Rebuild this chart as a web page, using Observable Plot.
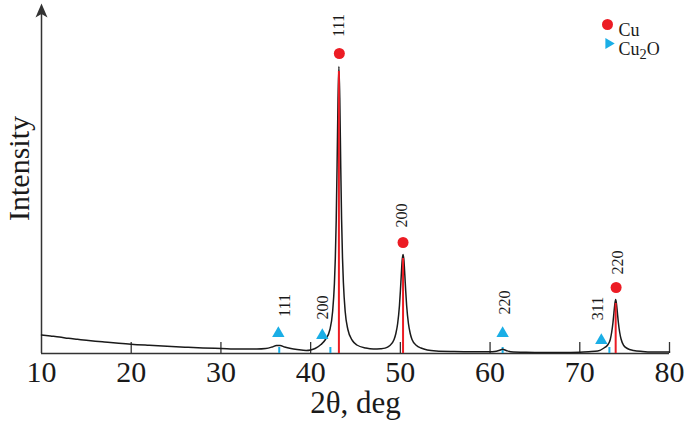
<!DOCTYPE html>
<html>
<head>
<meta charset="utf-8">
<script src="https://cdn.jsdelivr.net/npm/d3@7"></script>
<script src="https://cdn.jsdelivr.net/npm/@observablehq/plot@0.6"></script>
<style>
  html, body { margin: 0; padding: 0; background: #fff; }
</style>
</head>
<body>
<div id="chart"></div>
<script>
// ---- data ----
const xTicks = [10, 20, 30, 40, 50, 60, 70, 80];

const twoTheta = [
  10, 11, 12, 13, 14, 15, 16, 17, 18, 19, 20, 22, 24, 26, 28, 30, 32, 34, 35, 35.7, 36.2, 36.6, 37.1, 37.8, 38.5, 39.5,
  40.0, 40.5, 41.15, 41.65, 42.15, 42.45, 42.65, 42.75, 42.85, 42.95, 43.05, 43.15, 43.25, 43.35, 43.45, 43.55, 43.65, 43.85, 44.15, 44.65, 45.15, 46.15, 47.0,
  47.8, 48.3, 48.8, 49.3, 49.5, 49.7, 49.9, 50.0, 50.1, 50.2, 50.3, 50.4, 50.5, 50.6, 50.7, 50.9, 51.1, 51.3, 51.8, 52.3, 53, 54, 56, 58, 60,
  60.5, 61.0, 61.4, 61.8, 62.3, 64, 66, 68, 70,
  71, 72, 72.7, 73.1, 73.4, 73.55, 73.7, 73.8, 73.9, 74.0, 74.1, 74.2, 74.3, 74.45, 74.6, 74.9, 75.3, 76.0, 77, 78, 80
];
const intensity = [
  18.5, 17.5, 16.5, 15.2, 14.2, 13.2, 12.3, 11.5, 10.7, 10, 9.3, 8.2, 7.2, 6.3, 5.5, 5, 4.5, 4.5, 5, 6.5, 8, 8, 6.5, 5, 4, 3,
  3.5, 5, 9, 14, 24, 42, 70, 95, 133, 189, 254, 287, 254, 190, 134, 96, 71, 42, 24, 13, 8.5, 5.5, 4.5,
  4.8, 5.4, 7.8, 14, 20, 30, 48, 62, 78, 93, 99, 93, 78, 62, 48, 30, 20, 14, 8, 5.5, 3.5, 2.5, 2, 1.8, 1.8,
  2, 3, 4.2, 3, 1.8, 1.2, 1, 1, 1.3,
  1.8, 2.5, 5.5, 8.5, 14, 21, 31, 40, 49, 54, 49, 40, 31, 21, 14.5, 8, 5, 3, 2, 1.5, 1.5
];

// Cu reflections
const cuPeakPos = [43.15, 50.3, 74.0];
const cuPeakTop = [282, 95, 50];
const cuHkl = ["111", "200", "220"];
const cuMarkerX = [43.2, 50.3, 74.05];
const cuMarkerY = [300, 111, 66];
const cuLabelX = [43.2, 50.15, 74.2];
const cuLabelY = [328, 138, 91];

// Cu2O reflections
const cu2oPos = [36.5, 42.2, 61.4, 73.3];
const cu2oHkl = ["111", "200", "220", "311"];
const cu2oMarkerX = [36.4, 41.3, 61.4, 72.4];
const cu2oMarkerY = [20, 18, 20, 13];
const cu2oLabelX = [37.1, 41.4, 61.7, 72.0];
const cu2oLabelY = [48, 46, 51, 45];

const legendNames = ["Cu", "Cu2O"];
const xLabel = "2\u03b8, deg";
const yLabel = "Intensity";

// ---- build tables ----
const curve = twoTheta.map((x, i) => ({x, y: intensity[i]}));
const cu = cuPeakPos.map((p, i) => ({p, top: cuPeakTop[i], hkl: cuHkl[i], mx: cuMarkerX[i], my: cuMarkerY[i], lx: cuLabelX[i], ly: cuLabelY[i]}));
const cu2o = cu2oPos.map((p, i) => ({p, hkl: cu2oHkl[i], mx: cu2oMarkerX[i], my: cu2oMarkerY[i], lx: cu2oLabelX[i], ly: cu2oLabelY[i]}));

const RED = "#ec1c24";
const BLUE = "#1aaee6";
const INK = "#1a1a1a";
const AXIS = "#333";
const serif = "'Liberation Serif', 'Times New Roman', 'DejaVu Serif', serif";

const arrowHead = {
  draw(ctx) {
    ctx.moveTo(0, 0);
    ctx.lineTo(-6, 14);
    ctx.lineTo(0, 10.5);
    ctx.lineTo(6, 14);
    ctx.closePath();
  }
};

const plot = Plot.plot({
  width: 685,
  height: 438,
  marginLeft: 41,
  marginRight: 16,
  marginTop: 3,
  marginBottom: 85,
  x: {domain: [10, 80], axis: null},
  y: {domain: [0, 350], axis: null},
  style: {fontFamily: serif, background: "#fff", color: INK, overflow: "visible"},
  marks: [
    // inward ticks
    Plot.ruleX(xTicks.slice(1), {y1: 0, y2: 11, stroke: AXIS, strokeWidth: 1.3}),
    // x baseline
    Plot.ruleY([0], {x1: xTicks[0], x2: xTicks[xTicks.length - 1], stroke: AXIS, strokeWidth: 1.6}),
    // y axis with arrow
    Plot.ruleX([xTicks[0]], {y1: 0, y2: 340, stroke: AXIS, strokeWidth: 1.5}),
    Plot.dot([xTicks[0]], {x: d => d, y: () => 350, symbol: arrowHead, fill: AXIS, stroke: "none"}),
    // Cu2O short reference lines
    Plot.ruleX(cu2o, {x: "p", y1: 0, y2: 6, stroke: BLUE, strokeWidth: 2}),
    // pattern
    Plot.line(curve, {x: "x", y: "y", stroke: INK, strokeWidth: 1.5, curve: "monotone-x"}),
    // Cu reference lines
    Plot.ruleX(cu, {x: "p", y1: 0, y2: "top", stroke: RED, strokeWidth: 2}),
    // markers
    Plot.dot(cu, {x: "mx", y: "my", r: 5.5, fill: RED}),
    Plot.dot(cu2o, {x: "mx", y: "my", r: 4.6, symbol: "triangle", fill: BLUE}),
    // hkl labels
    Plot.text(cu, {x: "lx", y: "ly", text: "hkl", rotate: -90, fontSize: 16, fill: INK}),
    Plot.text(cu2o, {x: "lx", y: "ly", text: "hkl", rotate: -90, fontSize: 16, fill: INK}),
    // tick labels
    Plot.text(xTicks, {x: d => d, frameAnchor: "bottom", dy: 28, text: d => String(d), fontSize: 30, fill: INK}),
    // axis titles
    Plot.text([xLabel], {frameAnchor: "bottom", dy: 59, text: d => d, fontSize: 31, fill: INK}),
    Plot.text([yLabel], {frameAnchor: "left", textAnchor: "middle", dx: -22, dy: -10, rotate: -90, text: d => d, fontSize: 30, fill: INK}),
    // legend
    Plot.dot([legendNames[0]], {frameAnchor: "top-right", dx: -62, dy: 21, r: 5.5, fill: RED}),
    Plot.dot([legendNames[1]], {frameAnchor: "top-right", dx: -61, dy: 40, r: 4, symbol: "triangle", rotate: 90, fill: BLUE}),
    Plot.text([legendNames[0]], {frameAnchor: "top-right", dx: -51, dy: 20, text: d => d, textAnchor: "start", fontSize: 18, fill: INK}),
    Plot.text([legendNames[1]], {frameAnchor: "top-right", dx: -51, dy: 39, text: d => d, textAnchor: "start", fontSize: 18, fill: INK, className: "legend-cu2o"})
  ]
});

// render the "2" of Cu2O as a subscript (still real text)
d3.select(plot).selectAll("text").each(function() {
  const t = d3.select(this);
  if (t.text() === "Cu2O") {
    t.text(null);
    t.append("tspan").text("Cu");
    t.append("tspan").attr("dy", "0.25em").attr("font-size", "0.8em").text("2");
    t.append("tspan").attr("dy", "-0.2em").text("O");
  }
});

document.getElementById("chart").appendChild(plot);
</script>
</body>
</html>
